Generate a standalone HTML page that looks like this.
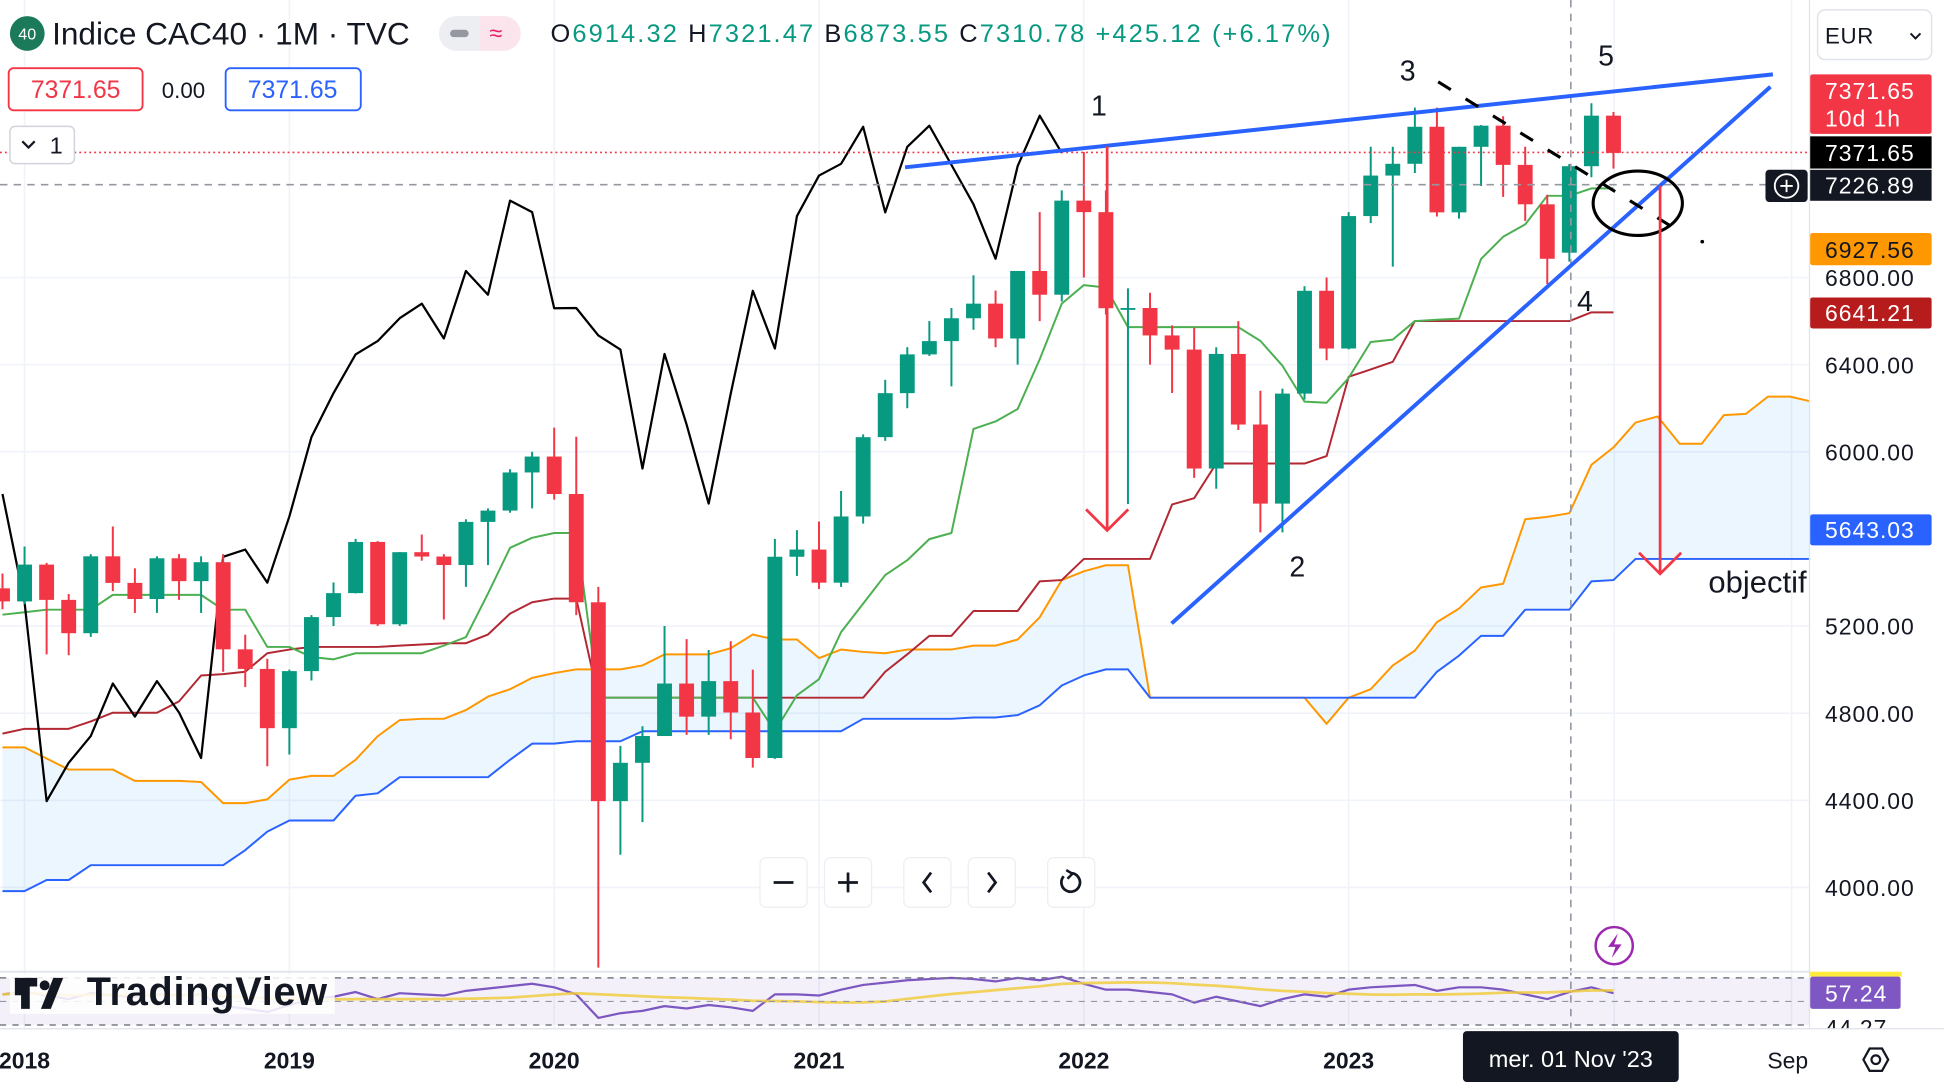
<!DOCTYPE html>
<html><head><meta charset="utf-8">
<style>
html,body{margin:0;padding:0;background:#fff;}
body{width:1944px;height:1082px;overflow:hidden;position:relative;font-family:"Liberation Sans",sans-serif;}
#wrap{position:absolute;left:0;top:0;width:1568px;height:873px;transform:scale(1.2398,1.2394);transform-origin:0 0;}
svg text{font-family:"Liberation Sans",sans-serif;}
</style></head>
<body>
<div id="wrap">
<svg id="chart" width="1568" height="873" viewBox="0 0 1568 873" xmlns="http://www.w3.org/2000/svg">
  <rect x="0" y="0" width="1568" height="873" fill="#ffffff"/>
  <g id="grid"></g>
  <g id="cloud"></g>
  <g id="lines"></g>
  <g id="candles"></g>
  <g id="overlay">
    <line x1="0" y1="123" x2="1460" y2="123" stroke="#f23645" stroke-width="1.3" stroke-dasharray="1.5 2.5"/>
    <line x1="0" y1="149" x2="1460" y2="149" stroke="#9598a1" stroke-width="1.3" stroke-dasharray="6 5"/>
    <line x1="1267" y1="0" x2="1267" y2="830" stroke="#9598a1" stroke-width="1.3" stroke-dasharray="6 5"/>
    <line x1="730" y1="135" x2="1430" y2="60" stroke="#2962ff" stroke-width="3.2"/>
    <line x1="945" y1="503" x2="1428" y2="70" stroke="#2962ff" stroke-width="3.2"/>
    <line x1="1160" y1="66" x2="1355" y2="187" stroke="#000" stroke-width="2.5" stroke-dasharray="12 14"/>
    <ellipse cx="1321" cy="164" rx="36" ry="26" fill="none" stroke="#000" stroke-width="2.5"/>
    <circle cx="1373" cy="195" r="1.5" fill="#000"/>
    <g stroke="#f23645" stroke-width="2.2" fill="none">
      <line x1="893" y1="118" x2="893" y2="428"/>
      <polyline points="876,411 893,428 910,411"/>
    </g>
    <g stroke="#f23645" stroke-width="2.2" fill="none">
      <line x1="1339" y1="150" x2="1339" y2="463"/>
      <polyline points="1322,446 1339,463 1356,446"/>
    </g>
    <g font-size="23" fill="#131722">
      <text x="880" y="93">1</text>
      <text x="1040" y="465">2</text>
      <text x="1129" y="65">3</text>
      <text x="1272" y="251">4</text>
      <text x="1289" y="53">5</text>
      <text x="1378" y="478" font-size="25">objectif</text>
    </g>
  </g>
  <!-- RSI pane -->
  <g id="rsi">
    <line x1="0" y1="784" x2="1568" y2="784" stroke="#e0e3eb" stroke-width="1.5"/>
    <rect x="0" y="789" width="1460" height="38" fill="#7e57c2" fill-opacity="0.09"/>
    <line x1="0" y1="789" x2="1460" y2="789" stroke="#787b86" stroke-width="1.2" stroke-dasharray="5 5"/>
    <line x1="0" y1="808" x2="1460" y2="808" stroke="#9598a1" stroke-width="1" stroke-dasharray="5 5"/>
    <line x1="0" y1="827" x2="1460" y2="827" stroke="#787b86" stroke-width="1.2" stroke-dasharray="5 5"/>
  </g>
  <!-- right axis -->
  <rect x="1460" y="0" width="108" height="873" fill="#fff"/>
  <g id="axis" font-size="18.5" fill="#131722" letter-spacing="0.8"></g>
  <g font-size="18.5" letter-spacing="0.8">
    <rect x="1460" y="60" width="98" height="48" rx="2" fill="#f23645"/>
    <text x="1472" y="80" fill="#fff">7371.65</text>
    <text x="1472" y="102" fill="#fff">10d 1h</text>
    <rect x="1460" y="110" width="98" height="26" fill="#000"/>
    <text x="1472" y="130" fill="#fff">7371.65</text>
    <rect x="1460" y="137" width="98" height="25" fill="#131722"/>
    <text x="1472" y="156" fill="#fff">7226.89</text>
    <rect x="1424" y="137" width="34" height="26" rx="3" fill="#131722"/>
    <circle cx="1441" cy="150" r="9.5" fill="none" stroke="#fff" stroke-width="1.5"/>
    <path d="M1436 150h10M1441 145v10" stroke="#fff" stroke-width="1.5"/>
    <rect x="1460" y="188" width="98" height="26" rx="2" fill="#ff9800"/>
    <text x="1472" y="208" fill="#131722">6927.56</text>
    <rect x="1460" y="240" width="98" height="25" rx="2" fill="#b71c1c"/>
    <text x="1472" y="259" fill="#fff">6641.21</text>
    <rect x="1460" y="415" width="98" height="25" rx="2" fill="#2962ff"/>
    <text x="1472" y="434" fill="#fff">5643.03</text>
    <rect x="1460" y="784" width="74" height="4" fill="#ffeb3b"/>
    <rect x="1460" y="788" width="73" height="26" rx="2" fill="#7e57c2"/>
    <text x="1472" y="808" fill="#fff">57.24</text>
    <text x="1472" y="836" fill="#131722">44.27</text>
  </g>
  <rect x="1459" y="0" width="1" height="830" fill="#e0e3eb"/>
  <rect x="0" y="830" width="1568" height="43" fill="#fff"/>
  <line x1="0" y1="830" x2="1568" y2="830" stroke="#e0e3eb" stroke-width="1"/>
  <!-- EUR -->
  <g>
    <rect x="1466" y="8" width="92" height="40" rx="6" fill="#fff" stroke="#e0e3eb" stroke-width="1.2"/>
    <text x="1472" y="35" font-size="18" fill="#131722" letter-spacing="0.5">EUR</text>
    <path d="M1541 27l4 4 4-4" fill="none" stroke="#131722" stroke-width="1.6"/>
  </g>
  <!-- time axis -->
  <g id="timeaxis" font-size="18.5" fill="#131722" font-weight="bold"></g>
  <g>
    <rect x="1180" y="832" width="174" height="41" rx="3" fill="#131722"/>
    <text x="1267" y="861" font-size="19" fill="#fff" text-anchor="middle">mer. 01 Nov '23</text>
  </g>
  <text x="1442" y="862" font-size="18.5" fill="#131722" text-anchor="middle">Sep</text>
  <g>
    <path d="M1503 855l5-9h10l5 9-5 9h-10z" fill="none" stroke="#131722" stroke-width="1.8"/>
    <circle cx="1513" cy="855" r="3.5" fill="none" stroke="#131722" stroke-width="1.8"/>
  </g>
  <!-- header -->
  <g>
    <circle cx="22" cy="27" r="14" fill="#1b7a5a"/>
    <text x="22" y="32" font-size="13" fill="#fff" text-anchor="middle">40</text>
    <text x="42" y="36" font-size="25.5" fill="#131722">Indice CAC40 · 1M · TVC</text>
    <rect x="354" y="13" width="66" height="28" rx="14" fill="#eceef2"/>
    <path d="M387 13h19a14 14 0 0 1 0 28h-19z" fill="#fce4ec"/>
    <rect x="363" y="24" width="15" height="6" rx="3" fill="#9598a1"/>
    <text x="400" y="33" font-size="19" fill="#e91e63" text-anchor="middle">≈</text>
    <text x="444" y="34" font-size="20.5" letter-spacing="1.7" fill="#089981"><tspan fill="#131722">O</tspan>6914.32 <tspan fill="#131722">H</tspan>7321.47 <tspan fill="#131722">B</tspan>6873.55 <tspan fill="#131722">C</tspan>7310.78 +425.12 (+6.17%)</text>
    <rect x="7" y="55" width="108" height="34" rx="4" fill="#fff" stroke="#f23645" stroke-width="1.5"/>
    <text x="61" y="79" font-size="20" fill="#f23645" text-anchor="middle">7371.65</text>
    <text x="148" y="79" font-size="18" fill="#131722" text-anchor="middle">0.00</text>
    <rect x="182" y="55" width="109" height="34" rx="4" fill="#fff" stroke="#2962ff" stroke-width="1.5"/>
    <text x="236" y="79" font-size="20" fill="#2962ff" text-anchor="middle">7371.65</text>
    <rect x="8" y="102" width="52" height="30" rx="4" fill="#fff" stroke="#d1d4dc" stroke-width="1.2"/>
    <path d="M18 114l5 5 5-5" fill="none" stroke="#131722" stroke-width="1.8"/>
    <text x="40" y="124" font-size="19" fill="#131722">1</text>
  </g>
  <!-- nav buttons -->
  <g>
    <g><rect x="613" y="692" width="38" height="40" rx="5" fill="#fff" stroke="#eceef2"/><path d="M624 712h16" stroke="#131722" stroke-width="2.2"/></g>
    <g><rect x="665" y="692" width="38" height="40" rx="5" fill="#fff" stroke="#eceef2"/><path d="M676 712h16M684 704v16" stroke="#131722" stroke-width="2.2"/></g>
    <g><rect x="729" y="692" width="38" height="40" rx="5" fill="#fff" stroke="#eceef2"/><path d="M751 704l-6 8 6 8" fill="none" stroke="#131722" stroke-width="2.2"/></g>
    <g><rect x="781" y="692" width="38" height="40" rx="5" fill="#fff" stroke="#eceef2"/><path d="M797 704l6 8-6 8" fill="none" stroke="#131722" stroke-width="2.2"/></g>
    <g><rect x="845" y="692" width="38" height="40" rx="5" fill="#fff" stroke="#eceef2"/><path d="M858 707a7.5 7.5 0 1 0 6 -2.5" fill="none" stroke="#131722" stroke-width="2.2"/><path d="M860 702l5 3-4 4" fill="none" stroke="#131722" stroke-width="2"/></g>
  </g>
  <g>
    <circle cx="1302" cy="763" r="15" fill="#fff" stroke="#9c27b0" stroke-width="2"/>
    <path d="M1305 753l-8 11h6l-3 9 8-11h-6z" fill="#9c27b0"/>
  </g>
  <g>
    <rect x="8" y="786" width="262" height="32" fill="#fff" fill-opacity="0.85"/>
    <path d="M12 789h18v7h-6v18h-7v-11h-5z" fill="#131722"/>
    <circle cx="36" cy="795" r="4" fill="#131722"/>
    <path d="M43 789h8l-10 25h-8z" fill="#131722"/>
    <text x="70" y="811" font-size="32" font-weight="bold" fill="#131722" letter-spacing="0.6">TradingView</text>
  </g>
</svg>
</div>
<script>
// ---- data (monthly, Dec 2017 .. Jan 2024) ----
const startYear = 2017, startMonth = 11;
const opens  = [5373,5313,5482,5320,5167,5520,5398,5324,5511,5406,5493,5093,5003, 4731,4993,5241,5351,5586,5208,5539,5519,5480,5678,5730,5905, 5978,5806,5309,4396,4572,4695,4936,4784,4947,4803,4594,5518, 5551,5399,5703,6067,6269,6447,6508,6613,6680,6520,6830,6721, 7153,7100,6659,6660,6534,6469,5923,6449,6125,5762,6267,6739, 6474,7082,7268,7322,7492,7099,7400,7497,7317,7136,6914,7311, 7543];
const highs  = [5441,5565,5490,5347,5530,5657,5465,5520,5530,5520,5530,5160,5050, 5000,5250,5400,5600,5590,5540,5620,5530,5690,5740,5920,6000, 6111,6069,5380,4650,4740,5200,5140,5090,5130,5000,5600,5640, 5680,5820,6080,6330,6480,6600,6660,6810,6740,6830,7100,7200, 7376,7200,6750,6730,6580,6570,6480,6600,6280,6290,6760,6800, 7100,7400,7400,7580,7580,7400,7500,7540,7400,7180,7321,7600, 7560];
const lows   = [5277,5300,5070,5066,5150,5360,5260,5260,5320,5260,4990,4920,4556, 4610,4950,5200,5350,5200,5200,5500,5230,5380,5480,5720,5740, 5780,5250,3632,4150,4300,4700,4700,4700,4680,4550,4590,5430, 5370,5380,5670,6050,6200,6440,6300,6560,6480,6400,6600,6690, 6800,6630,5760,6400,6270,5880,5830,6100,5630,5630,6240,6420, 6470,7050,6850,7280,7080,7070,7220,7170,7060,6770,6873,7260, 7300];
const closes = [5313,5482,5320,5167,5520,5398,5324,5511,5406,5493,5093,5003,4731, 4993,5241,5351,5586,5208,5539,5519,5480,5678,5730,5905,5978, 5806,5309,4396,4572,4695,4936,4784,4947,4803,4594,5518,5551, 5399,5703,6067,6269,6447,6508,6613,6680,6520,6830,6721,7153, 7100,6659,6660,6534,6469,5923,6449,6125,5762,6267,6739,6474, 7082,7268,7322,7492,7099,7400,7497,7317,7136,6886,7311,7543, 7372];
const tenkan = [5252,5263,5275,5275,5275,5343,5343,5343,5343,5343,5275,5275,5104,5104,5058,5047,5075,5075,5075,5075,5110,5149,5349,5559,5605,5627,5627,4871,4871,4871,4871,4871,4871,4871,4871,4717,4882,4956,5172,5303,5434,5502,5599,5627,6105,6139,6196,6424,6680,6765,6754,6572,6572,6572,6572,6572,6572,6509,6395,6230,6225,6339,6504,6515,6600,6606,6611,6885,6987,7044,7175,7175,7209,7209];
const kijun = [4706,4728,4728,4728,4762,4802,4802,4802,4854,4973,4979,4990,5075,5092,5104,5104,5104,5104,5110,5115,5121,5121,5161,5257,5309,5326,5326,4871,4871,4871,4871,4871,4871,4871,4871,4871,4871,4871,4871,4871,4990,5070,5155,5155,5269,5269,5269,5405,5411,5508,5508,5508,5508,5758,5787,5946,5946,5946,5946,5946,5980,6344,6378,6413,6600,6600,6600,6600,6600,6600,6600,6600,6640,6640];
const spanA = [4643,4643,4592,4541,4541,4541,4489,4489,4489,4484,4387,4387,4404,4495,4512,4512,4586,4694,4768,4774,4774,4814,4876,4910,4962,4984,5001,5001,5001,5019,5070,5070,5070,5098,5161,5138,5138,5053,5092,5081,5075,5092,5092,5092,5110,5110,5138,5240,5411,5451,5479,5479,4871,4871,4871,4871,4871,4871,4871,4871,4751,4871,4910,5019,5087,5218,5280,5377,5394,5690,5701,5718,5940,6020,6134,6162,6037,6037,6168,6174,6253,6253,6230];
const spanB = [3983,3983,4034,4034,4102,4102,4102,4102,4102,4102,4102,4171,4256,4307,4307,4307,4421,4432,4506,4506,4506,4506,4506,4586,4660,4660,4671,4671,4671,4717,4717,4717,4717,4717,4717,4717,4717,4717,4717,4774,4774,4774,4774,4774,4780,4780,4791,4836,4927,4973,5001,5001,4871,4871,4871,4871,4871,4871,4871,4871,4871,4871,4871,4871,4871,4990,5064,5155,5155,5275,5275,5275,5405,5411,5508,5508,5508,5508,5508,5508,5508,5508,5508];
const rsi = [56,58,55,52,57,55,54,56,55,56,46,44,41,47,52,54,58,52,57,56,55,59,61,63,65,62,56,36,40,42,46,44,47,45,42,56,56,55,60,64,66,68,69,70,69,67,70,68,71,65,60,60,58,56,49,54,50,46,52,56,54,60,62,63,64,59,62,62,60,56,52,58,62,57];
const priceTicks = [4000,4400,4800,5200,6000,6400,6800];
const yearLabels = ["2018","2019","2020","2021","2022","2023"];
const chikouShift = 25;

// ---- scales ----
const NS = "http://www.w3.org/2000/svg";
function xOf(i){ return 2 + i*17.8; }
function yOf(p){ return 716 - (p-4000)*0.17575; }
function yRsi(v){ return 808 - (v-50)*0.95; }
function mk(tag, attrs, parent){
  const el = document.createElementNS(NS, tag);
  for (const k in attrs) el.setAttribute(k, attrs[k]);
  parent.appendChild(el);
  return el;
}
const gGrid = document.getElementById('grid');
const gCloud = document.getElementById('cloud');
const gLines = document.getElementById('lines');
const gCandles = document.getElementById('candles');
const gAxis = document.getElementById('axis');
const gTime = document.getElementById('timeaxis');

priceTicks.forEach(p => {
  const l = mk('line', {x1:0, x2:1460, y1:yOf(p), y2:yOf(p), stroke:'#f0f3fa', 'stroke-width':1.3}, gGrid);
  
  
  const t = mk('text', {x:1472, y:yOf(p)+7}, gAxis);
  t.textContent = p.toFixed(2);
  
  
});
yearLabels.forEach((yl) => {
  const i = (parseInt(yl) - startYear)*12 - startMonth;
  const x = xOf(i);
  const l = mk('line', {x1:x, x2:x, y1:0, y2:830, stroke:'#f0f3fa', 'stroke-width':1.3}, gGrid);
  
  
  const t = mk('text', {x:x, y:862, 'text-anchor':'middle'}, gTime);
  t.textContent = yl;
  
  
});
[1302,1445].forEach(x => {
  const l = mk('line', {x1:x, x2:x, y1:0, y2:830, stroke:'#f0f3fa', 'stroke-width':1.3}, gGrid);
  
  
});

function pts(arr, fy){ return arr.map((v,i)=> xOf(i)+','+fy(v)).join(' '); }
{
  let top = spanA.map((v,i)=> xOf(i)+','+yOf(v));
  let bot = spanB.map((v,i)=> xOf(i)+','+yOf(v)).reverse();
  const poly = mk('polygon', {points: top.concat(bot).join(' '), fill:'#2196f3', 'fill-opacity':0.09}, gCloud);
  
  
}
function line(arr, color, w, name, fy){
  const pl = mk('polyline', {points: pts(arr, fy||yOf), fill:'none', stroke:color, 'stroke-width':w, 'stroke-linejoin':'round'}, gLines);
  
  
}
line(spanA, '#ff9800', 1.6, 'senkou-span-a');
line(spanB, '#2962ff', 1.6, 'senkou-span-b');
line(kijun, '#b22833', 1.6, 'kijun-sen');
line(tenkan, '#4caf50', 1.6, 'tenkan-sen');
const chikou = closes.slice(chikouShift);
line(chikou, '#000000', 1.8, 'chikou-span');

closes.forEach((c,i) => {
  const o = opens[i], h = highs[i], l = lows[i];
  const up = c >= o;
  const col = up ? '#089981' : '#f23645';
  const x = xOf(i);
  const g = mk('g', {}, gCandles);
  
  
  mk('line', {x1:x, x2:x, y1:yOf(h), y2:yOf(l), stroke:col, 'stroke-width':1.6}, g);
  const yt = yOf(Math.max(o,c)), yb = yOf(Math.min(o,c));
  mk('rect', {x:x-6, y:yt, width:12, height:Math.max(1.5, yb-yt), fill:col}, g);
});

line(rsi, '#7e57c2', 1.8, 'rsi-line', yRsi);
const rsiMA = rsi.map((v,i)=>{ const s = rsi.slice(Math.max(0,i-13), i+1); return s.reduce((a,b)=>a+b,0)/s.length; });
const ma = mk('polyline', {points: pts(rsiMA, yRsi), fill:'none', stroke:'#fdd835', 'stroke-width':2.2, 'stroke-opacity':0.85}, gLines);


</script>
</body></html>
